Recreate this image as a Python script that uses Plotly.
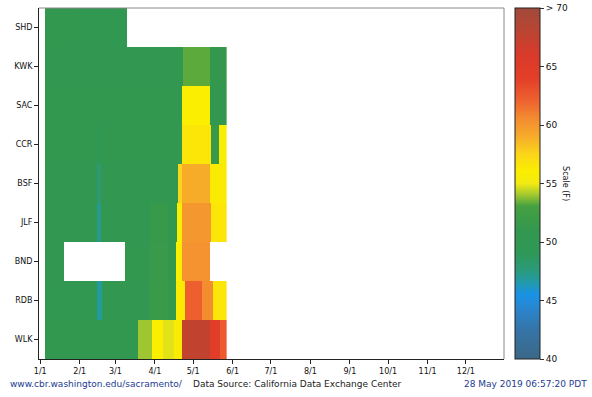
import numpy as np
import plotly.graph_objects as go

# ---------------- data ----------------
stations = ["SHD", "KWK", "SAC", "CCR", "BSF", "JLF", "BND", "RDB", "WLK"]

# piecewise daily temperatures (F): [first_day, last_day, value], day 0 = Jan 1
shd = [[4, 30, 50.8], [31, 68, 50.4]]
kwk = [[4, 112, 50.5], [113, 133, 53.3], [134, 146, 51.0]]
sac = [[4, 111, 50.6], [112, 133, 56.0], [134, 146, 50.8]]
ccr = [[4, 44, 50.6], [45, 47, 49.3], [48, 111, 50.6], [112, 134, 56.5],
       [135, 140, 51.5], [141, 146, 55.8]]
bsf = [[4, 44, 50.5], [45, 47, 48.0], [48, 108, 50.5], [109, 111, 57.5],
       [112, 133, 59.0], [134, 146, 56.2]]
jlf = [[4, 44, 50.5], [45, 47, 47.2], [48, 86, 50.5], [87, 100, 51.5],
       [101, 107, 50.8], [108, 111, 56.0], [112, 134, 60.0], [135, 146, 56.5]]
bnd = [[4, 18, 50.5], [67, 86, 50.6], [87, 100, 51.6], [101, 106, 51.0],
       [107, 111, 56.0], [112, 133, 60.2]]
rdb = [[4, 44, 50.4], [45, 48, 46.8], [49, 86, 50.5], [87, 100, 51.8],
       [101, 106, 51.2], [107, 113, 56.2], [114, 127, 62.2], [128, 135, 60.5],
       [136, 146, 56.5]]
wlk = [[4, 76, 50.6], [77, 87, 54.0], [88, 96, 56.0], [97, 105, 54.8],
       [106, 111, 56.3], [112, 133, 67.5], [134, 141, 64.5], [142, 146, 62.5]]

segments = [shd, kwk, sac, ccr, bsf, jlf, bnd, rdb, wlk]

month_days = [0, 31, 59, 90, 120, 151, 181, 212, 243, 273, 304, 334]
month_labels = ["1/1", "2/1", "3/1", "4/1", "5/1", "6/1", "7/1", "8/1",
                "9/1", "10/1", "11/1", "12/1"]

scale_vals = [40, 45, 50, 55, 60, 65, 70]
scale_text = ["40", "45", "50", "55", "60", "65", "> 70"]

# ---------------- build grid ----------------
n_days = 147
days = list(range(n_days))
z = []
for segs in segments:
    row = [np.nan] * n_days
    for a, b, v in segs:
        for d in range(a, b + 1):
            row[d] = v
    z.append(row)

colorscale = [
    [0.000, "#3b6887"],
    [0.083, "#3574a8"],
    [0.140, "#2a84cc"],
    [0.183, "#1a92e6"],
    [0.220, "#229aa8"],
    [0.255, "#2b9a78"],
    [0.300, "#2e9858"],
    [0.370, "#33984e"],
    [0.435, "#45a040"],
    [0.468, "#a2c830"],
    [0.500, "#f2ea12"],
    [0.535, "#fbee00"],
    [0.585, "#fbd41a"],
    [0.635, "#f6aa2a"],
    [0.685, "#f38c30"],
    [0.735, "#ee6230"],
    [0.800, "#e43e28"],
    [0.867, "#d93a2a"],
    [0.933, "#bb4432"],
    [1.000, "#a04a3a"],
]

fig = go.Figure(go.Heatmap(
    z=z, x=days, y=stations,
    zmin=40, zmax=70,
    colorscale=colorscale,
    hoverongaps=False,
    colorbar=dict(
        thickness=25, thicknessmode="pixels",
        len=1, lenmode="fraction",
        x=1.0237, xanchor="left", xpad=0,
        y=0.5, yanchor="middle", ypad=0,
        outlinewidth=1, outlinecolor="#222",
        tickvals=scale_vals, ticktext=scale_text,
        ticks="outside", ticklen=4, tickcolor="#333",
        tickfont=dict(family="DejaVu Sans", size=9, color="#111"),
    ),
))

fig.update_layout(
    width=592, height=397,
    margin=dict(l=39, r=88, t=8, b=38),
    paper_bgcolor="white", plot_bgcolor="white",
    font=dict(family="DejaVu Sans", size=8, color="#111"),
    showlegend=False,
)

fig.update_xaxes(
    range=[-1, 364],
    tickvals=month_days, ticktext=month_labels,
    ticks="outside", ticklen=4, tickcolor="#222",
    showline=True, linecolor="#222", linewidth=1,
    showgrid=False, zeroline=False,
    tickfont=dict(family="DejaVu Sans", size=8, color="#111"),
)
fig.update_yaxes(
    autorange="reversed",
    ticks="outside", ticklen=4, tickcolor="#222",
    showline=True, linecolor="#222", linewidth=1,
    showgrid=False, zeroline=False,
    tickfont=dict(family="DejaVu Sans", size=8, color="#111"),
)

# frame top and right (gray)
fig.add_shape(type="line", xref="paper", yref="paper", x0=0, x1=1, y0=1, y1=1,
              line=dict(color="#888", width=1))
fig.add_shape(type="line", xref="paper", yref="paper", x0=1, x1=1, y0=0, y1=1,
              line=dict(color="#888", width=1))

fig.add_annotation(text="Scale (F)", xref="paper", yref="paper",
                   x=1.146, y=0.5, textangle=90, showarrow=False,
                   font=dict(family="DejaVu Sans", size=8, color="#111"))

fig.add_annotation(text="www.cbr.washington.edu/sacramento/", xref="paper", yref="paper",
                   x=-0.067, y=-0.072, xanchor="left", yanchor="middle", showarrow=False,
                   font=dict(family="DejaVu Sans", size=9, color="#1c3c90"))
fig.add_annotation(text="Data Source: California Data Exchange Center", xref="paper", yref="paper",
                   x=0.326, y=-0.072, xanchor="left", yanchor="middle", showarrow=False,
                   font=dict(family="DejaVu Sans", size=9, color="#222"))
fig.add_annotation(text="28 May 2019 06:57:20 PDT", xref="paper", yref="paper",
                   x=1.183, y=-0.072, xanchor="right", yanchor="middle", showarrow=False,
                   font=dict(family="DejaVu Sans", size=9, color="#1c3c90"))

fig.write_html("out.html", config={"displayModeBar": False},
               post_script="document.body.style.margin='0';")
